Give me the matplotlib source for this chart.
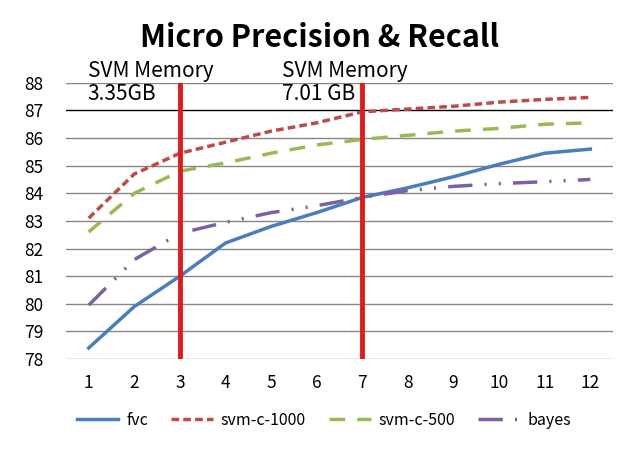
import numpy as np
import matplotlib
matplotlib.use("Agg")
import matplotlib.pyplot as plt

plt.rcParams['font.family'] = ['Noto Sans CJK KR', 'DejaVu Sans']

# data
x_vals = [1, 2, 3, 4, 5, 6, 7, 8, 9, 10, 11, 12]
fvc = [78.4, 79.9, 81.0, 82.2, 82.8, 83.3, 83.85, 84.2, 84.6, 85.05, 85.45, 85.6]
svm_1000 = [83.1, 84.7, 85.45, 85.85, 86.25, 86.55, 86.95, 87.05, 87.15, 87.3, 87.4, 87.47]
svm_500 = [82.6, 84.0, 84.8, 85.1, 85.45, 85.75, 85.95, 86.1, 86.25, 86.35, 86.5, 86.55]
bayes = [79.95, 81.6, 82.55, 82.95, 83.3, 83.55, 83.85, 84.1, 84.25, 84.35, 84.42, 84.5]
series_names = ['fvc', 'svm-c-1000', 'svm-c-500', 'bayes']
memory_x = [3, 7]
memory_labels = ['SVM Memory\n3.35GB', 'SVM Memory\n7.01 GB']

fig = plt.figure(figsize=(6.4, 4.55), dpi=100)
ax = fig.add_axes([0.103, 0.211, 0.855, 0.607])

# horizontal gridlines (87 is drawn darker, like the original)
for y in range(78, 89):
    if y == 87:
        ax.axhline(y, color='black', lw=1.0, zorder=0)
    else:
        ax.axhline(y, color='#868686', lw=1.0, zorder=0)

ax.plot(x_vals, fvc, color='#4a7ebb', lw=2.5, label=series_names[0], zorder=3)
ax.plot(x_vals, svm_1000, color='#be4b48', lw=2.5, dashes=(2.2, 1.2), label=series_names[1], zorder=3)
ax.plot(x_vals, svm_500, color='#98b954', lw=2.5, dashes=(4.5, 3.5), label=series_names[2], zorder=3)
ax.plot(x_vals, bayes, color='#7d60a0', lw=2.5, dashes=(7, 3.5, 0.6, 3.5, 0.6, 3.5), label=series_names[3], zorder=3)

for mx in memory_x:
    ax.plot([mx, mx], [78, 88], color='#e31a1c', lw=3.5, zorder=4)

ax.text(0.98, 88.0, memory_labels[0], fontsize=15, ha='left', va='center', linespacing=1.05)
ax.text(5.24, 88.0, memory_labels[1], fontsize=15, ha='left', va='center', linespacing=1.05)

ax.set_xlim(0.5, 12.5)
ax.set_ylim(78, 88)
ax.set_xticks(x_vals)
ax.set_yticks(range(78, 89))
ax.tick_params(length=0, labelsize=12.5)
ax.tick_params(axis='x', pad=11)
ax.tick_params(axis='y', pad=16)
for s in ax.spines.values():
    s.set_visible(False)

fig.suptitle('Micro Precision & Recall', fontsize=22, fontweight='bold', y=0.916, va='center')

fig.legend(loc='center left', bbox_to_anchor=(0.12, 0.076), ncol=4, frameon=False,
           fontsize=11.5, handlelength=2.6, columnspacing=1.45, handletextpad=0.5,
           borderpad=0, borderaxespad=0)

fig.savefig('out.png', dpi=100)
